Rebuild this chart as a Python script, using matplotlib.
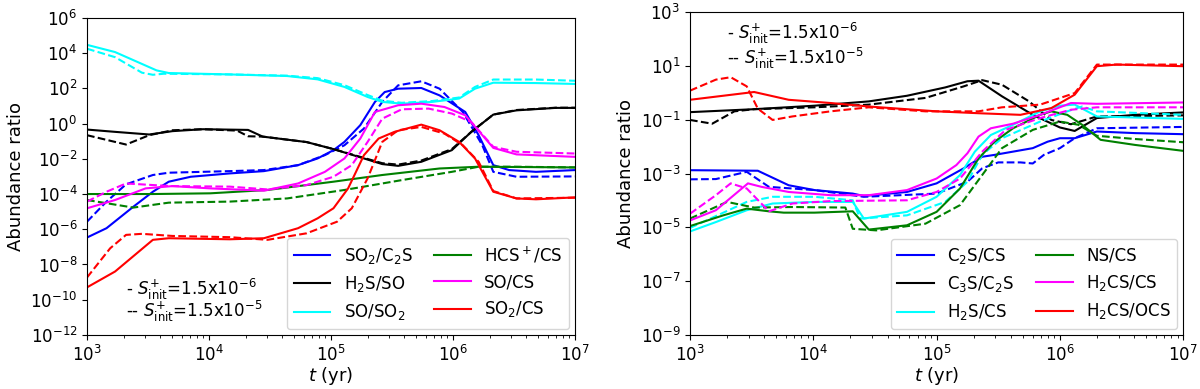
import numpy as np
import matplotlib
matplotlib.use("Agg")
import matplotlib.pyplot as plt
from matplotlib.lines import Line2D
from matplotlib.ticker import NullLocator

# ---- values: pairs of (log10 t [yr], log10 ratio) ----
# left panel, solid = S+init 1.5e-6, dashed (_D) = S+init 1.5e-5
SO2_C2S = [(3, -6.47), (3.16, -5.94), (3.38, -4.72), (3.54, -3.87), (3.67, -3.30), (3.85, -3.02),
           (4.17, -2.83), (4.45, -2.70), (4.73, -2.36), (4.89, -1.98), (5.02, -1.51), (5.11, -1.04),
           (5.24, -0.09), (5.36, 1.23), (5.44, 1.79), (5.55, 1.98), (5.74, 2.02), (5.89, 1.60),
           (6.10, 0.66), (6.21, -0.66), (6.33, -2.36), (6.46, -2.64), (6.68, -2.74), (7, -2.64)]
SO2_C2S_D = [(3, -5.57), (3.16, -4.43), (3.32, -3.45), (3.54, -2.92), (3.67, -2.79), (4.17, -2.70),
             (4.45, -2.64), (4.73, -2.36), (4.95, -1.79), (5.11, -1.23), (5.27, -0.28), (5.42, 1.23),
             (5.55, 2.17), (5.74, 2.40), (5.89, 1.98), (6.08, 0.66), (6.24, -1.23), (6.33, -2.74),
             (6.52, -3.02), (7, -3.0)]
H2S_SO = [(3, -0.34), (3.23, -0.47), (3.51, -0.62), (3.70, -0.43), (3.95, -0.32), (4.32, -0.36),
          (4.44, -0.74), (4.80, -1.05), (5.02, -1.45), (5.27, -1.98), (5.42, -2.30), (5.55, -2.40),
          (5.74, -2.17), (5.99, -1.51), (6.15, -0.47), (6.33, 0.51), (6.52, 0.75), (6.84, 0.89),
          (7, 0.89)]
H2S_SO_D = [(3, -0.66), (3.32, -1.19), (3.51, -0.66), (3.70, -0.38), (3.95, -0.32), (4.23, -0.40),
            (4.32, -0.72), (4.44, -0.74), (4.80, -1.05), (5.02, -1.45), (5.27, -1.95), (5.42, -2.25),
            (5.55, -2.33), (5.74, -2.10), (5.99, -1.45), (6.15, -0.47), (6.33, 0.51), (6.52, 0.77),
            (6.84, 0.90), (7, 0.90)]
SO_SO2 = [(3, 4.47), (3.23, 4.06), (3.57, 3.02), (3.67, 2.87), (4.17, 2.79), (4.64, 2.70),
          (4.89, 2.51), (5.11, 2.08), (5.30, 1.51), (5.42, 1.23), (5.58, 1.13), (5.83, 1.23),
          (6.05, 1.42), (6.18, 1.98), (6.33, 2.32), (6.68, 2.30), (7, 2.25)]
SO_SO2_D = [(3, 4.25), (3.23, 3.77), (3.45, 2.89), (3.54, 2.77), (3.63, 2.83), (4.17, 2.79),
            (4.64, 2.72), (4.89, 2.58), (5.11, 2.18), (5.30, 1.62), (5.42, 1.30), (5.58, 1.18),
            (5.83, 1.28), (6.05, 1.48), (6.18, 2.08), (6.33, 2.50), (6.68, 2.50), (7, 2.43)]
HCSP_CS = [(3, -4.0), (3.54, -4.0), (4.01, -3.96), (4.48, -3.77), (5.02, -3.30), (5.42, -2.92),
           (5.89, -2.55), (6.21, -2.45), (7, -2.49)]
HCSP_CS_D = [(3, -4.34), (3.38, -4.77), (3.67, -4.49), (4.17, -4.43), (4.64, -4.25), (5.11, -3.77),
             (5.58, -3.21), (5.99, -2.74), (6.21, -2.45), (6.52, -2.45), (7, -2.49)]
SO_CS = [(3, -4.81), (3.23, -4.34), (3.48, -3.68), (3.70, -3.55), (4.01, -3.68), (4.45, -3.81),
         (4.73, -3.40), (4.95, -2.74), (5.11, -1.98), (5.24, -0.85), (5.36, 0.66), (5.55, 1.04),
         (5.74, 1.13), (5.93, 0.94), (6.10, 0.47), (6.33, -1.38), (6.52, -1.75), (7, -1.89)]
SO_CS_D = [(3, -4.43), (3.16, -3.87), (3.32, -3.40), (3.54, -3.49), (3.70, -3.55), (4.17, -3.58),
           (4.48, -3.74), (4.80, -3.49), (5.02, -3.02), (5.17, -2.36), (5.30, -1.04), (5.42, 0.28),
           (5.58, 0.81), (5.80, 0.85), (5.99, 0.57), (6.15, 0.09), (6.33, -1.32), (6.52, -1.60),
           (7, -1.70)]
SO2_CS = [(3, -9.30), (3.23, -8.40), (3.54, -6.60), (3.67, -6.51), (4.17, -6.57), (4.45, -6.51),
          (4.73, -5.94), (4.89, -5.38), (5.02, -4.81), (5.14, -3.68), (5.27, -1.79), (5.39, -0.85),
          (5.52, -0.47), (5.74, -0.06), (5.89, -0.38), (6.05, -1.04), (6.18, -1.98), (6.33, -3.87),
          (6.52, -4.25), (6.68, -4.30), (7, -4.19)]
SO2_CS_D = [(3, -8.74), (3.19, -7.08), (3.32, -6.32), (3.45, -6.26), (3.70, -6.38), (4.17, -6.45),
            (4.48, -6.60), (4.80, -6.23), (5.05, -5.57), (5.17, -4.81), (5.30, -3.11), (5.42, -1.04),
            (5.55, -0.38), (5.74, -0.19), (5.93, -0.57), (6.08, -1.23), (6.21, -2.17), (6.33, -3.83),
            (6.52, -4.25), (7, -4.21)]

# right panel
C2S_CS = [(3, -2.87), (3.55, -2.89), (3.80, -3.43), (4.01, -3.61), (4.32, -3.74), (4.41, -3.83),
          (4.76, -3.68), (5.0, -3.36), (5.22, -2.80), (5.37, -2.37), (5.47, -2.30), (5.78, -2.05),
          (5.90, -1.81), (6.0, -1.68), (6.12, -1.68), (6.30, -1.43), (6.61, -1.49), (7, -1.53)]
C2S_CS_D = [(3, -3.21), (3.21, -3.20), (3.46, -2.93), (3.64, -3.49), (4.01, -3.61), (4.41, -3.86),
            (5.0, -3.74), (5.25, -3.30), (5.37, -2.80), (5.50, -2.58), (5.68, -2.58), (5.78, -2.62),
            (5.87, -2.30), (6.0, -2.05), (6.12, -1.68), (6.30, -1.31), (7, -1.26)]
C3S_C2S = [(3, -0.71), (3.52, -0.60), (4.01, -0.47), (4.45, -0.31), (4.76, -0.10), (5.07, 0.21),
           (5.25, 0.44), (5.34, 0.46), (5.53, -0.12), (5.78, -0.81), (6.0, -1.28), (6.12, -1.41),
           (6.30, -0.93), (6.61, -0.81), (7, -0.72)]
C3S_C2S_D = [(3, -1.0), (3.18, -1.14), (3.36, -0.68), (3.52, -0.60), (4.01, -0.53), (4.45, -0.43),
             (4.91, -0.18), (5.22, 0.25), (5.37, 0.48), (5.53, 0.31), (5.75, -0.31), (5.93, -1.0),
             (6.09, -1.16), (6.30, -0.87), (7, -0.83)]
H2S_CS = [(3, -5.15), (3.21, -4.80), (3.46, -4.36), (3.67, -4.11), (4.01, -4.05), (4.32, -4.05),
          (4.41, -4.67), (4.76, -4.42), (5.0, -3.86), (5.19, -3.05), (5.31, -2.18), (5.44, -1.56),
          (5.62, -1.18), (5.84, -0.68), (6.0, -0.47), (6.12, -0.43), (6.30, -0.87), (7, -0.96)]
H2S_CS_D = [(3, -5.02), (3.46, -4.05), (3.67, -3.86), (4.01, -3.86), (4.32, -3.99), (4.38, -4.67),
            (4.76, -4.55), (5.07, -4.05), (5.25, -3.30), (5.37, -2.30), (5.53, -1.68), (5.84, -1.06),
            (6.06, -0.68), (6.18, -0.50), (6.30, -0.68), (7, -0.81)]
NS_CS = [(3, -4.95), (3.27, -4.55), (3.46, -4.30), (3.64, -4.40), (3.76, -4.45), (4.01, -4.45),
         (4.32, -4.40), (4.45, -5.08), (4.76, -4.92), (5.0, -4.42), (5.19, -3.55), (5.34, -2.43),
         (5.47, -1.81), (5.62, -1.31), (5.84, -0.81), (5.93, -0.68), (6.06, -0.81), (6.18, -1.18),
         (6.33, -1.74), (6.61, -1.93), (7, -2.15)]
NS_CS_D = [(3, -4.67), (3.30, -4.05), (3.52, -4.26), (3.83, -4.24), (4.26, -4.26), (4.32, -5.05),
           (4.51, -5.11), (4.91, -4.86), (5.19, -4.17), (5.37, -3.05), (5.53, -2.05), (5.78, -1.37),
           (6.0, -1.06), (6.15, -1.18), (6.30, -1.59), (6.61, -1.71), (7, -1.83)]
H2CS_CS = [(3, -4.74), (3.21, -4.36), (3.47, -3.36), (3.58, -3.49), (3.80, -3.68), (4.14, -3.80),
           (4.45, -3.80), (4.76, -3.61), (5.0, -3.18), (5.16, -2.68), (5.25, -2.24), (5.34, -1.62),
           (5.44, -1.31), (5.62, -1.14), (5.84, -0.81), (6.09, -0.37), (6.30, -0.40), (7, -0.35)]
H2CS_CS_D = [(3, -4.49), (3.21, -3.80), (3.33, -3.36), (3.46, -3.55), (3.64, -4.40), (3.83, -4.11),
             (4.14, -4.02), (4.76, -3.99), (5.0, -3.68), (5.19, -3.18), (5.37, -2.18), (5.56, -1.37),
             (5.84, -0.93), (6.09, -0.62), (6.30, -0.53), (7, -0.53)]
H2CS_OCS = [(3, -0.25), (3.52, 0.04), (3.80, -0.25), (4.14, -0.37), (4.45, -0.50), (5.0, -0.68),
            (5.34, -0.75), (5.68, -0.81), (5.93, -0.56), (6.12, -0.06), (6.30, 1.0), (6.46, 1.06),
            (7, 1.0)]
H2CS_OCS_D = [(3, 0.09), (3.21, 0.50), (3.33, 0.59), (3.46, 0.25), (3.55, -0.58), (3.67, -1.0),
              (3.83, -0.87), (4.14, -0.68), (4.45, -0.53), (4.91, -0.68), (5.34, -0.68),
              (5.53, -0.53), (5.84, -0.43), (6.12, 0.0), (6.30, 1.06), (7, 1.06)]

LEFT = [("SO$_2$/C$_2$S", "blue", SO2_C2S, SO2_C2S_D),
        ("H$_2$S/SO", "black", H2S_SO, H2S_SO_D),
        ("SO/SO$_2$", "cyan", SO_SO2, SO_SO2_D),
        ("HCS$^+$/CS", "green", HCSP_CS, HCSP_CS_D),
        ("SO/CS", "magenta", SO_CS, SO_CS_D),
        ("SO$_2$/CS", "red", SO2_CS, SO2_CS_D)]
RIGHT = [("C$_2$S/CS", "blue", C2S_CS, C2S_CS_D),
         ("C$_3$S/C$_2$S", "black", C3S_C2S, C3S_C2S_D),
         ("H$_2$S/CS", "cyan", H2S_CS, H2S_CS_D),
         ("NS/CS", "green", NS_CS, NS_CS_D),
         ("H$_2$CS/CS", "magenta", H2CS_CS, H2CS_CS_D),
         ("H$_2$CS/OCS", "red", H2CS_OCS, H2CS_OCS_D)]

TXT1 = r"- $\mathit{S}^{+}_{\rm init}$=1.5x10$^{-6}$"
TXT2 = r"-- $\mathit{S}^{+}_{\rm init}$=1.5x10$^{-5}$"

plt.rcParams["font.size"] = 12
plt.rcParams["mathtext.default"] = "regular"

fig = plt.figure(figsize=(12, 3.89), dpi=100)
ax1 = fig.add_axes([0.0725, 0.139, 0.4067, 0.815])
ax2 = fig.add_axes([0.575, 0.139, 0.411, 0.829])


def draw(ax, series, ylo, yhi, txt_xy, gap):
    handles = []
    for label, col, sol, das in series:
        s = np.array(sol)
        d = np.array(das)
        ax.plot(10 ** s[:, 0], 10 ** s[:, 1], color=col, lw=1.5)
        ax.plot(10 ** d[:, 0], 10 ** d[:, 1], color=col, lw=1.5, ls="--")
        handles.append(Line2D([], [], color=col, lw=1.5, label=label))
    ax.set_xscale("log")
    ax.set_yscale("log")
    ax.set_xlim(1e3, 1e7)
    ax.set_ylim(10.0 ** ylo, 10.0 ** yhi)
    ax.set_yticks([10.0 ** k for k in range(ylo, yhi + 1, 2)])
    ax.yaxis.set_minor_locator(NullLocator())
    ax.set_xlabel(r"$\mathit{t}$ (yr)", fontsize=13, labelpad=0)
    ax.set_ylabel("Abundance ratio", fontsize=13)
    ax.legend(handles=handles, ncol=2, loc="lower right", fontsize=12,
              handlelength=2.2, columnspacing=1.3, borderaxespad=0.35)
    ax.text(txt_xy[0], txt_xy[1], TXT1, transform=ax.transAxes, fontsize=12, va="center")
    ax.text(txt_xy[0], txt_xy[1] - gap, TXT2, transform=ax.transAxes, fontsize=12, va="center")


draw(ax1, LEFT, -12, 6, (0.08, 0.145), 0.072)
draw(ax2, RIGHT, -9, 3, (0.075, 0.935), 0.078)

fig.savefig("out.png", dpi=100)
